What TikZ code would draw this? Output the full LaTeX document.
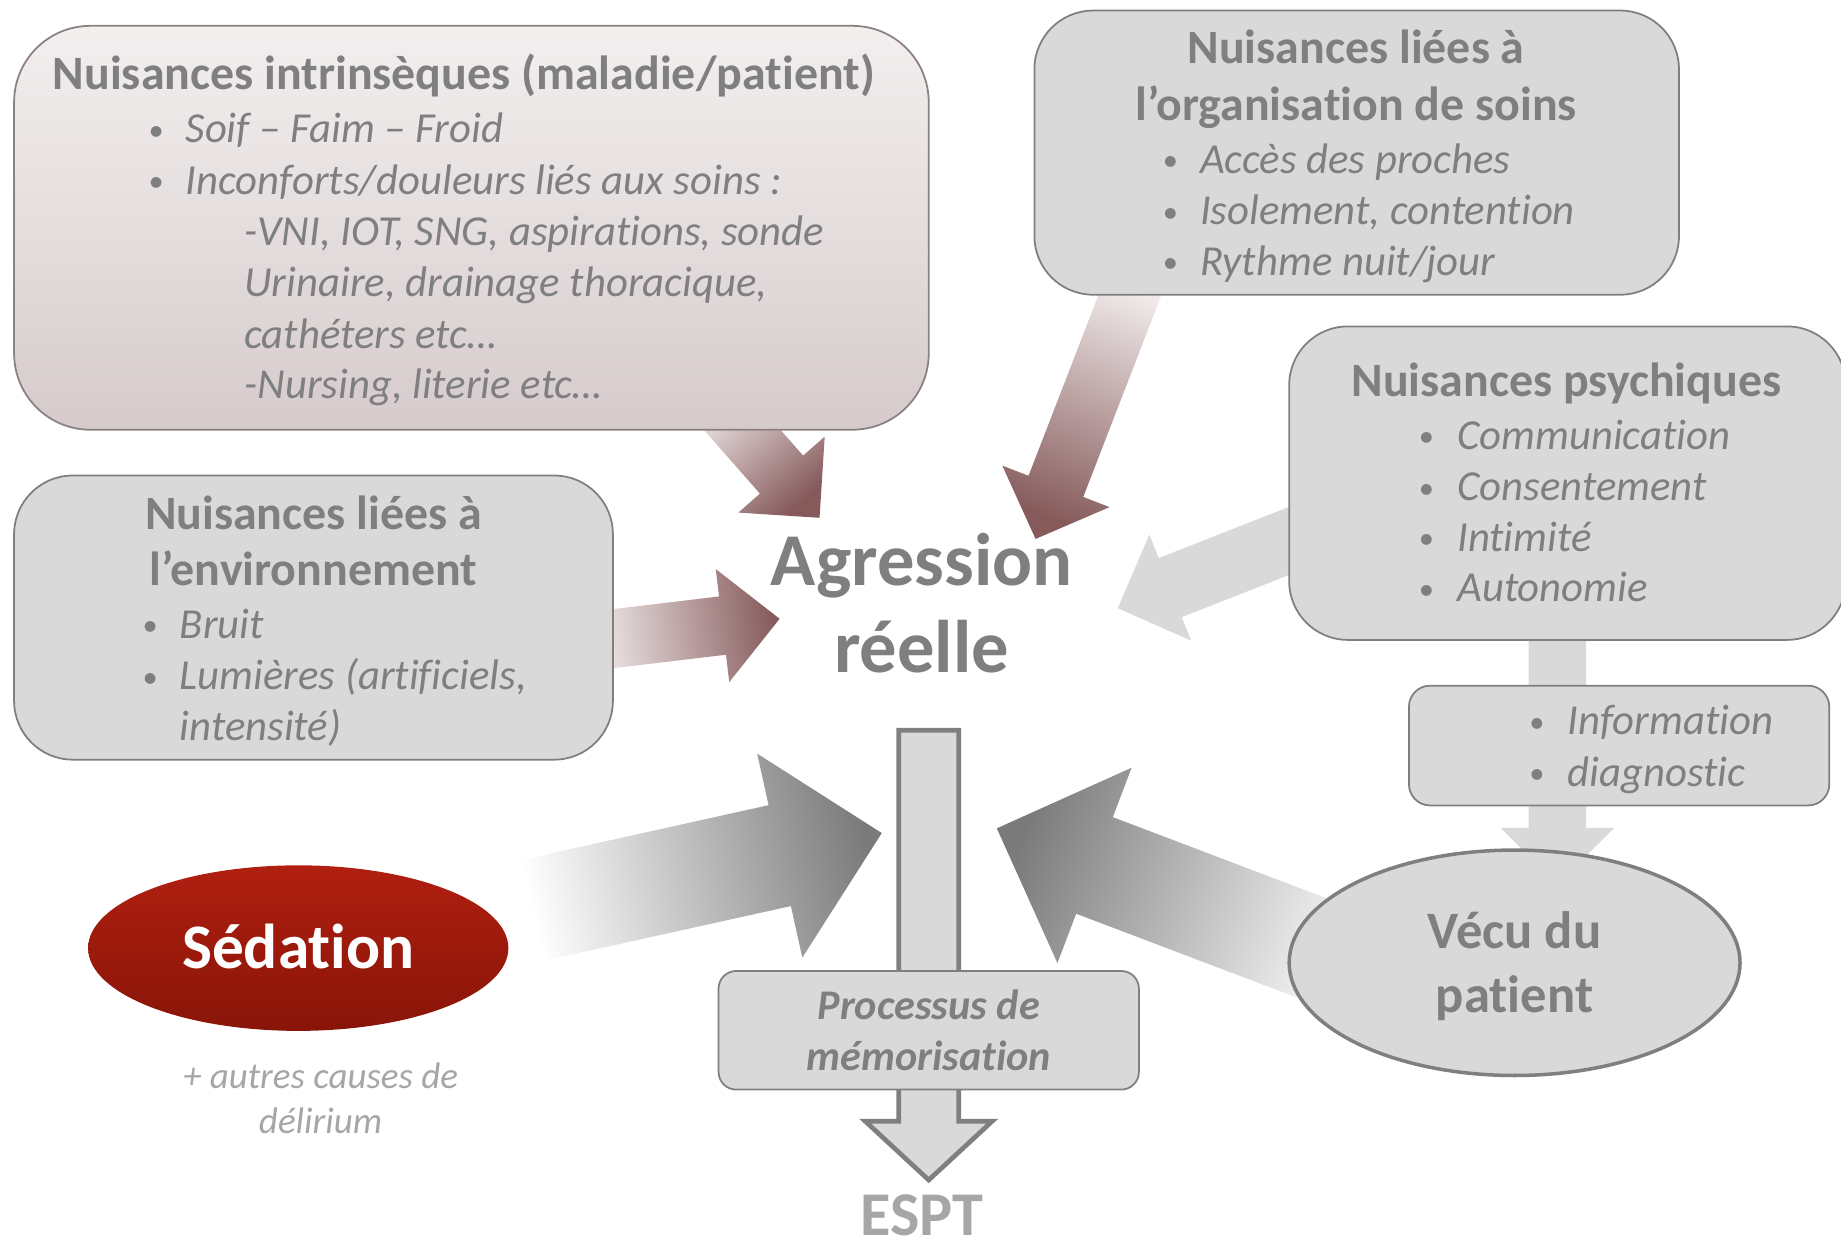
\documentclass[tikz,border=0pt]{standalone}
\usepackage{fontspec}
\setmainfont{Carlito}[Ligatures=NoCommon]
\usetikzlibrary{calc,shapes.geometric}

\definecolor{tgray}{RGB}{127,127,127}
\definecolor{lgray}{RGB}{217,217,217}
\definecolor{bgray}{RGB}{127,127,127}
\definecolor{pinkb}{RGB}{140,128,129}
\definecolor{pinkl}{RGB}{243,239,239}
\definecolor{pinkd}{RGB}{214,203,204}
\definecolor{maroon}{RGB}{134,90,91}
\definecolor{maroonl}{RGB}{240,234,234}
\definecolor{sedtop}{RGB}{176,31,16}
\definecolor{sedbot}{RGB}{136,21,8}
\definecolor{pale}{RGB}{166,166,166}
\definecolor{dgray}{RGB}{122,122,122}

\pgfdeclarelayer{arrows}
\pgfsetlayers{arrows,main}

% block arrow: [options]{start}{tip}{half shaft width}{half head width}{head length}
\newcommand\blockarrow[6][]{%
  \path ($(#3)!#6!(#2)$) coordinate (bahead);
  \path[#1] ($(#2)!#4!90:(#3)$) -- ($(bahead)!#4!90:(#3)$) -- ($(bahead)!#5!90:(#3)$) -- (#3)
     -- ($(bahead)!#5!-90:(#3)$) -- ($(bahead)!#4!-90:(#3)$) -- ($(#2)!#4!-90:(#3)$) -- cycle;}

% bullet item: {name}{bullet x}{text x}{baseline y}{text}
\newcommand\bitem[5]{%
  \node[dot] (#1d) at (#2,#4-2) {•};
  \node[itm] (#1) at (#3,#4) {#5};}

\begin{document}
\begin{tikzpicture}[x=1pt,y=-1pt,
  box/.style={draw=bgray, line width=1.5pt, fill=lgray, inner sep=0pt, rounded corners=50pt},
  ttl/.style={text=tgray, inner sep=0pt, anchor=base, font=\fontsize{40.8}{48}\selectfont\bfseries},
  itm/.style={text=tgray, inner sep=0pt, anchor=base west, font=\fontsize{36.4}{43}\selectfont\itshape},
  dot/.style={text=tgray, inner sep=0pt, anchor=base, font=\fontsize{26}{30}\selectfont},
  big/.style={text=tgray, inner sep=0pt, anchor=base, font=\fontsize{63.5}{74}\selectfont\bfseries},
  maroonarrow/.style={bottom color=maroonl, top color=maroon},
]
\useasboundingbox (0,0) rectangle (1568,1055);

% ---- boxes ----
\node[box, draw=pinkb, rounded corners=65pt, top color=pinkl, bottom color=pinkd,
      minimum width=779pt, minimum height=344pt] (intr) at (401.5,194) {};
\node[box, minimum width=549pt, minimum height=242pt] (org) at (1155.5,130) {};
\node[box, minimum width=474pt, minimum height=267pt] (psych) at (1335,411.5) {};
\node[box, minimum width=510pt, minimum height=242pt] (env) at (267,526) {};
\node[box, rounded corners=18pt, minimum width=358pt, minimum height=102pt] (info) at (1379,635) {};
\node[ellipse, draw=bgray, line width=3pt, fill=lgray, inner sep=0pt,
      minimum width=384pt, minimum height=192pt] (vecu) at (1290,820) {};
\node[ellipse, top color=sedtop, bottom color=sedbot, inner sep=0pt,
      minimum width=358pt, minimum height=141pt] (sed) at (254,807.5) {};

% ---- intrinsic nuisances ----
\node[ttl] (intrt) at (395,76) {Nuisances intrinsèques (maladie/patient)};
\bitem{intr1}{133}{158}{121.5}{Soif – Faim – Froid}
\bitem{intr2}{133}{158}{165.5}{Inconforts/douleurs liés aux soins :}
\node[itm] (intr3) at (208,209.5) {-VNI, IOT, SNG, aspirations, sonde};
\node[itm] (intr4) at (208,252.5) {Urinaire, drainage thoracique,};
\node[itm] (intr5) at (208,296.5) {cathéters etc…};
\node[itm] (intr6) at (208,339.5) {-Nursing, literie etc…};

% ---- organisation ----
\node[ttl] (orgt1) at (1155,54) {Nuisances liées à};
\node[ttl] (orgt2) at (1155,103) {l’organisation de soins};
\bitem{org1}{997}{1022}{147.5}{Accès des proches}
\bitem{org2}{997}{1022}{191.5}{Isolement, contention}
\bitem{org3}{997}{1022}{234.5}{Rythme nuit/jour}

% ---- psychic ----
\node[ttl] (psycht) at (1334,338) {Nuisances psychiques};
\bitem{psy1}{1215}{1241}{382.5}{Communication}
\bitem{psy2}{1215}{1241}{426.5}{Consentement}
\bitem{psy3}{1215}{1241}{469.5}{Intimité}
\bitem{psy4}{1215}{1241}{512.5}{Autonomie}

% ---- information ----
\bitem{inf1}{1309}{1335}{625.5}{Information}
\bitem{inf2}{1309}{1335}{669.5}{diagnostic}

% ---- environment ----
\node[ttl] (envt1) at (267,451) {Nuisances liées à};
\node[ttl] (envt2) at (267,499) {l’environnement};
\bitem{env1}{128}{153}{543.5}{Bruit}
\bitem{env2}{128}{153}{587.5}{Lumières (artificiels,}
\node[itm] (env3) at (153,630.5) {intensité)};

% ---- centre ----
\node[big] (agr) at (785,499) {Agression};
\node[big] (agr2) at (785,573) {réelle};
\node[text=tgray, inner sep=0pt, anchor=base, font=\fontsize{44.8}{54}\selectfont\bfseries] (vecut1) at (1290,808) {Vécu du};
\node[text=tgray, inner sep=0pt, anchor=base, font=\fontsize{44.8}{54}\selectfont\bfseries] (vecut2) at (1290,862) {patient};
\node[text=white, inner sep=0pt, anchor=base, font=\fontsize{54}{64}\selectfont\bfseries] (sedt) at (254,825) {Sédation};
\node[text=pale, inner sep=0pt, anchor=base, font=\fontsize{31.5}{38}\selectfont\itshape] (aut1) at (273,927) {+ autres causes de};
\node[text=pale, inner sep=0pt, anchor=base, font=\fontsize{31.5}{38}\selectfont\itshape] (aut2) at (273,965) {délirium};

% ---- memorisation ----
\node[box, rounded corners=15pt, minimum width=358pt, minimum height=101pt] (proc) at (791,877.5) {};
\node[text=tgray, inner sep=0pt, anchor=base, font=\fontsize{36}{43}\selectfont\bfseries\itshape] (proct1) at (791,868.5) {Processus de};
\node[text=tgray, inner sep=0pt, anchor=base, font=\fontsize{36}{43}\selectfont\bfseries\itshape] (proct2) at (791,911.5) {mémorisation};
\node[text=pale, inner sep=0pt, anchor=base, font=\fontsize{53}{64}\selectfont\bfseries] (espt) at (785,1052) {ESPT};

% ---- arrows (behind the boxes) ----
\coordinate (a1s) at (608.9,339.75);  \coordinate (a1t) at (698,441);
\coordinate (a2s) at (968.6,235.2);   \coordinate (a2t) at (882,459);
\coordinate (a3s) at (505,546);       \coordinate (a3t) at (664,527);
\coordinate (a4s) at (1115,454);      \coordinate (a4t) at (952,518);
\coordinate (a5s) at (443,777.7);     \coordinate (a5t) at (751,709.5);
\coordinate (a6s) at (1129.5,812);    \coordinate (a6t) at (849,705.5);
\coordinate (a7s) at (1326.5,535);    \coordinate (a7t) at (1326.5,753);
\coordinate (a8s) at (791,622);       \coordinate (a8t) at (791,1005);

\begin{pgfonlayer}{arrows}
  \blockarrow[maroonarrow, shading angle=-138.7]{a1s}{a1t}{24.5pt}{49pt}{49pt}
  \blockarrow[maroonarrow, shading angle=158.8]{a2s}{a2t}{25pt}{49pt}{48pt}
  \blockarrow[maroonarrow, shading angle=-83.2]{a3s}{a3t}{25pt}{48.5pt}{49pt}
  \blockarrow[fill=lgray]{a4s}{a4t}{27pt}{48.5pt}{48pt}
  \blockarrow[bottom color=white, top color=dgray, shading angle=-77.5]{a5s}{a5t}{44pt}{89pt}{89pt}
  \blockarrow[bottom color=white!93!black, top color=dgray, shading angle=69.2]{a6s}{a6t}{44pt}{89pt}{89pt}
  \blockarrow[fill=lgray]{a7s}{a7t}{24.5pt}{48.5pt}{48pt}
  \blockarrow[fill=lgray, draw=bgray, line width=4pt]{a8s}{a8t}{25.5pt}{54pt}{50pt}
\end{pgfonlayer}
\end{tikzpicture}
\end{document}
